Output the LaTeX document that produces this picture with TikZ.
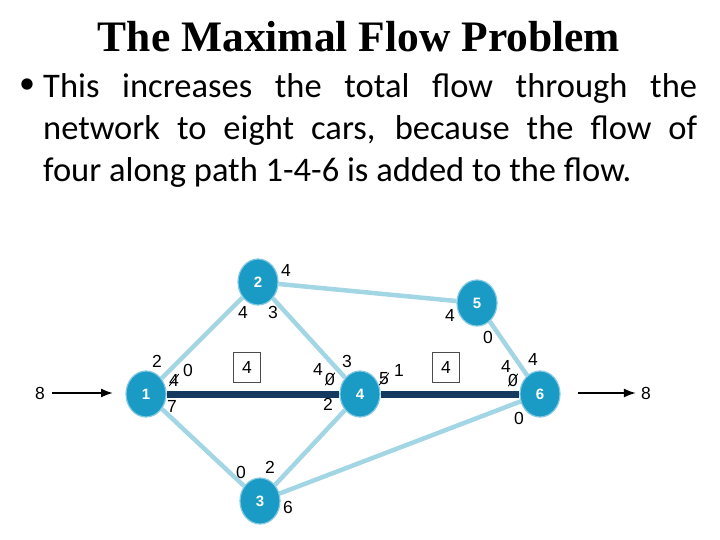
\documentclass[tikz,border=0pt]{standalone}
\usepackage{fontspec}
\setmainfont{Liberation Sans}
\newfontfamily\titelfont{Liberation Serif}
\newfontfamily\tekstfont{Carlito}
\usetikzlibrary{shapes.geometric,backgrounds,arrows.meta}
\definecolor{knoopblauw}{HTML}{1A9BC6}
\definecolor{taklicht}{HTML}{A3D6E4}
\definecolor{takdonker}{HTML}{163A5F}

\begin{document}
\begin{tikzpicture}[x=1pt,y=-1pt,>=latex]
\useasboundingbox (0,0) rectangle (720,540);

% --- Stijldefinities ---
\tikzset{
    knoop/.style={
        ellipse,
        fill=knoopblauw,
        draw=knoopblauw!55!white,
        line width=1.2pt,
        minimum width=40pt,
        minimum height=46pt,
        inner sep=0pt,
        text=white,
        font=\fontsize{15}{15}\selectfont\bfseries
    },
    tak/.style={draw=taklicht, line width=4.5pt},
    pad/.style={draw=takdonker, line width=7pt},
    getal/.style={font=\fontsize{17.5}{17.5}\selectfont, inner sep=0pt},
    weg/.style={
        getal,
        path picture={\draw[line width=0.8pt] (path picture bounding box.south west) -- (path picture bounding box.north east);}
    },
    vak/.style={getal, draw=black!70, line width=0.8pt, minimum width=27pt, minimum height=30pt},
    pijl/.style={-{Latex[length=12pt,width=9pt]}, line width=1.8pt}
}

% --- Titel en tekst ---
\node[anchor=base, font=\titelfont\bfseries\fontsize{43.5}{43.5}\selectfont] (titel) at (359,52) {The Maximal Flow Problem};
\node[font=\tekstfont\fontsize{32}{32}\selectfont, inner sep=0pt] (bolletje) at (27,86) {•};
\node[anchor=north west, text width=654pt, align=justify, inner sep=0pt,
      font=\tekstfont\fontsize{34.5}{42}\selectfont] (tekst) at (43,73)
    {This increases the total flow through the\linebreak network to eight cars, because the flow of\linebreak four along path 1-4-6 is added to the flow.};

% --- Knooppunten ---
\node[knoop] (n1) at (146,394) {1};
\node[knoop] (n2) at (258,282) {2};
\node[knoop] (n3) at (260,501) {3};
\node[knoop] (n4) at (360,394) {4};
\node[knoop] (n5) at (477,303) {5};
\node[knoop] (n6) at (540,394) {6};

% --- Takken ---
\begin{pgfonlayer}{background}
\draw[tak] (n1) -- (n2);
\draw[tak] (n1) -- (n3);
\draw[tak] (n2) -- (n4);
\draw[tak] (n2) -- (n5);
\draw[tak] (n3) -- (n4);
\draw[tak] (n3) -- (n6);
\draw[tak] (n5) -- (n6);
\draw[pad] (n1) -- (n4);
\draw[pad] (n4) -- (n6);
\end{pgfonlayer}

% --- Capaciteiten ---
\node[getal] (c12) at (157,361) {2};
\node[weg]   (c14) at (174,380) {4};
\node[getal] (c14b) at (188,370) {0};
\node[getal] (c13) at (172,406) {7};
\node[getal] (c21) at (243,312) {4};
\node[getal] (c24) at (273,312) {3};
\node[getal] (c25) at (286,270) {4};
\node[getal] (c42) at (347,361) {3};
\node[getal] (c41) at (318,369) {4};
\node[weg]   (c41b) at (330,379) {0};
\node[getal] (c43) at (328,404) {2};
\node[weg]   (c46) at (384,379) {5};
\node[getal] (c46b) at (399,370) {1};
\node[getal] (c52) at (450,315) {4};
\node[getal] (c56) at (488,337) {0};
\node[getal] (c64) at (506,366) {4};
\node[weg]   (c64b) at (513,380) {0};
\node[getal] (c65) at (533,359) {4};
\node[getal] (c63) at (519,418) {0};
\node[getal] (c31) at (241,472) {0};
\node[getal] (c34) at (270,467) {2};
\node[getal] (c36) at (288,507) {6};

% --- Toegevoegde stroom ---
\node[vak] (v14) at (247,367) {4};
\node[vak] (v46) at (446,367) {4};

% --- In- en uitstroom ---
\node[getal] (bron) at (40,393) {8};
\coordinate (ingang) at (113,393);
\draw[pijl, shorten <=7pt] (bron) -- (ingang);
\coordinate (uitgang) at (578,393);
\node[getal] (put) at (646,393) {8};
\draw[pijl, shorten >=5pt] (uitgang) -- (put);
\end{tikzpicture}
\end{document}
